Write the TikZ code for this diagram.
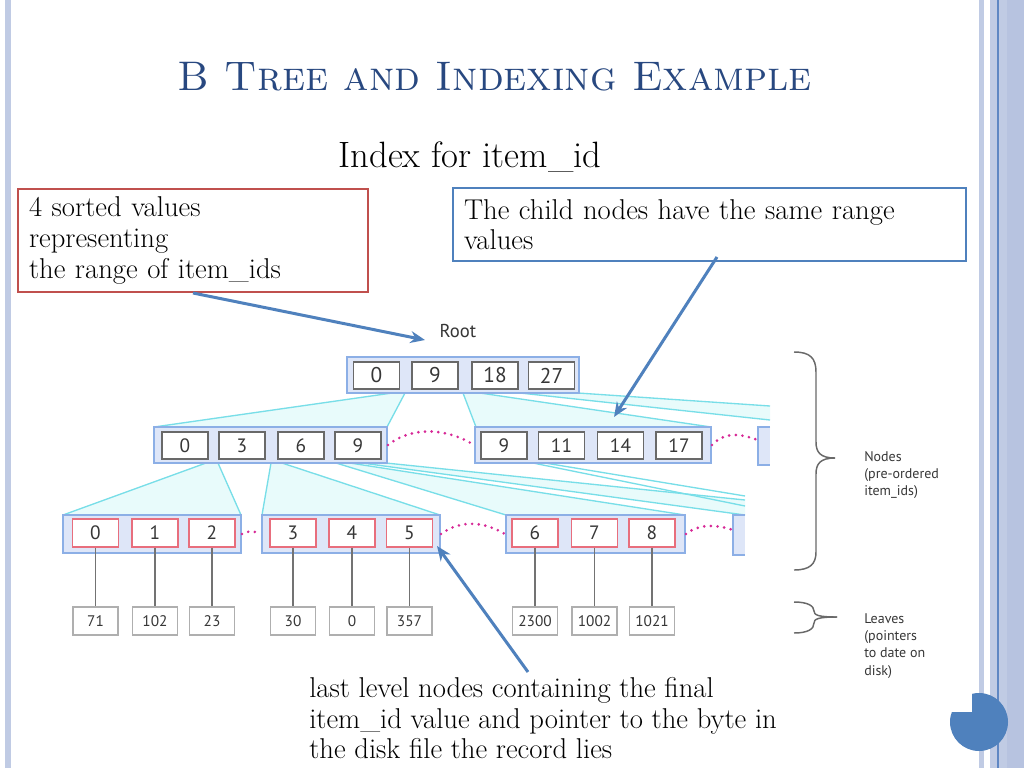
\documentclass[tikz,border=0pt]{standalone}
\usepackage{fontspec}
\newfontfamily\treefont{PT Sans}
\usetikzlibrary{arrows.meta}
\definecolor{titleblue}{RGB}{40,72,128}
\definecolor{boxred}{RGB}{192,80,77}
\definecolor{boxblue}{RGB}{79,129,189}
\definecolor{stripe}{RGB}{192,203,228}
\definecolor{stripetwo}{RGB}{183,195,224}
\definecolor{stripeline}{RGB}{95,135,195}
\definecolor{outerfill}{RGB}{222,230,248}
\definecolor{outerdraw}{RGB}{140,175,230}
\definecolor{cellgray}{RGB}{105,105,105}
\definecolor{cellred}{RGB}{232,110,125}
\definecolor{fanline}{RGB}{120,222,232}
\definecolor{fanfill}{RGB}{232,251,251}
\definecolor{dotpink}{RGB}{215,40,150}
\definecolor{leafgray}{RGB}{175,175,175}
\definecolor{treetext}{RGB}{55,55,55}
\definecolor{connline}{RGB}{115,115,115}
\definecolor{bracegray}{RGB}{105,105,105}
\tikzset{
  outerbox/.style={draw=outerdraw, fill=outerfill, line width=1.5pt, inner sep=0pt, minimum height=27pt},
  graycell/.style={draw=cellgray, fill=white, line width=1.3pt, inner sep=0pt, minimum width=34.5pt, minimum height=20.25pt, text=treetext},
  redcell/.style={draw=cellred, fill=white, line width=1.3pt, inner sep=0pt, minimum width=34.5pt, minimum height=21pt, text=treetext, font=\treefont\fontsize{14.5}{14.5}\selectfont},
  rootfont/.style={font=\treefont\fontsize{16}{16}\selectfont},
  midfont/.style={font=\treefont\fontsize{14.5}{14.5}\selectfont},
  leafbox/.style={draw=leafgray, fill=white, line width=0.8pt, inner sep=0pt, minimum width=33.75pt, minimum height=21pt, text=treetext, font=\treefont\fontsize{11.5}{11.5}\selectfont},
  fanarea/.style={fill=fanfill},
  fanedge/.style={draw=fanline, line width=1pt},
  pinkdots/.style={draw=dotpink, line width=2.2pt, dash pattern=on 0pt off 5pt, line cap=round},
  arr/.style={draw=boxblue, line width=2.25pt, -{Stealth[length=11pt,width=9pt]}},
  conn/.style={draw=connline, line width=1.3pt},
  bracepath/.style={draw=bracegray, line width=1.1pt},
  sidelbl/.style={anchor=north west, align=left, inner sep=0pt, text=treetext, font=\treefont\fontsize{10.5}{13}\selectfont},
  bodytext/.style={font=\fontsize{21.5}{23}\selectfont}
}
\begin{document}
\begin{tikzpicture}[x=0.75pt,y=-0.75pt]
\useasboundingbox (0,0) rectangle (1024,768);
\fill[white] (0,0) rectangle (1024,768);
% border stripes
\fill[stripe] (5,0) rectangle (11,768);
\fill[stripe] (979,0) rectangle (984,768);
\fill[stripe] (990,0) rectangle (1024,768);
\fill[stripetwo] (1007,0) rectangle (1024,768);
\draw[stripeline, line width=0.9pt] (998,0) -- (998,768);
% corner circle
\begin{scope}
\clip (972,650) rectangle (1024,768) (930,712) rectangle (1024,768);
\fill[boxblue] (979,722) circle (29);
\end{scope}
% title and subtitle
\node[font=\fontsize{31}{31}\selectfont, text=titleblue] (title) at (494.5,77) {\textsc{B Tree and Indexing Example}};
\node[font=\fontsize{27.5}{30}\selectfont] (sub) at (470,157) {Index for item\_id};
% callout boxes
\node[draw=boxred, line width=1.5pt, anchor=north west, inner xsep=8.25pt, inner ysep=0pt, text width=246pt, minimum height=77.25pt, align=left, bodytext] (lbox) at (17,188) {4 sorted values\\representing\\the range of item\_ids};
\node[draw=boxblue, line width=1.5pt, anchor=north west, inner xsep=8.25pt, inner ysep=0pt, text width=368.25pt, minimum height=54.75pt, align=left, bodytext] (rbox) at (452,187) {The child nodes have the same range\\values};
\node[anchor=north west, inner sep=0pt, align=left, bodytext] (btext) at (309,677) {last level nodes containing the final\\item\_id value and pointer to the byte in\\the disk file the record lies};
% fans root -> level 2
\fill[fanarea] (392,393) -- (405,393) -- (387,427) -- (154,427) -- cycle;
\draw[fanedge] (392,393) -- (154,427) (405,393) -- (387,427);
\fill[fanarea] (463,393) -- (480,393) -- (711,427) -- (476,427) -- cycle;
\draw[fanedge] (463,393) -- (476,427) (480,393) -- (711,427);
\fill[fanarea] (520,393) -- (578,393) -- (770,406) -- (770,420) -- cycle;
\draw[fanedge] (520,393) -- (770,420) (578,393) -- (770,406);
% fans level 2 -> level 3
\fill[fanarea] (206,463) -- (218,463) -- (241,515) -- (63,515) -- cycle;
\draw[fanedge] (206,463) -- (63,515) (218,463) -- (241,515);
\fill[fanarea] (271,463) -- (282,463) -- (440,515) -- (262,515) -- cycle;
\draw[fanedge] (271,463) -- (262,515) (282,463) -- (440,515);
\fill[fanarea] (336,463) -- (350,463) -- (685,515) -- (506,515) -- cycle;
\draw[fanedge] (336,463) -- (506,515) (350,463) -- (685,515);
\fill[fanarea] (362,463) -- (386,463) -- (745,500) -- (745,515) -- cycle;
\draw[fanedge] (362,463) -- (745,515) (386,463) -- (745,500);
\draw[fanedge] (533,463) -- (745,506) (545,463) -- (745,496);
% root
\node[font=\treefont\fontsize{14}{14}\selectfont, text=treetext] (rootlbl) at (458,331) {Root};
\node[outerbox, minimum width=174pt] (root) at (463,375) {};
\node[graycell, rootfont] (r0) at (376.5,375.5) {0};
\node[graycell, rootfont] (r1) at (435,375.5) {9};
\node[graycell, rootfont] (r2) at (495,375.5) {18};
\node[graycell, rootfont] (r3) at (551.5,375.5) {27};
% level 2
\node[outerbox, minimum width=174.75pt] (na) at (270.5,445) {};
\node[graycell, midfont] (a0) at (185,445.5) {0};
\node[graycell, midfont] (a1) at (242,445.5) {3};
\node[graycell, midfont] (a2) at (301,445.5) {6};
\node[graycell, midfont] (a3) at (358,445.5) {9};
\node[outerbox, minimum width=177pt] (nb) at (593,445) {};
\node[graycell, midfont] (b0) at (504,445.5) {9};
\node[graycell, midfont] (b1) at (561.5,445.5) {11};
\node[graycell, midfont] (b2) at (620.5,445.5) {14};
\node[graycell, midfont] (b3) at (679,445.5) {17};
\draw[draw=outerdraw, fill=outerfill, line width=1.5pt] (770,427) -- (758,427) -- (758,465) -- (770,465);
% level 3
\node[outerbox, minimum width=133.5pt, minimum height=28.5pt] (nA) at (152,534) {};
\node[outerbox, minimum width=133.5pt, minimum height=28.5pt] (nB) at (351,534) {};
\node[outerbox, minimum width=134.25pt, minimum height=28.5pt] (nC) at (595.5,534) {};
\draw[draw=outerdraw, fill=outerfill, line width=1.5pt] (745,515) -- (733,515) -- (733,555) -- (745,555);
\foreach \n/\x in {0/95.5,1/155,2/212,3/293,4/352,5/409.5,6/535,7/594.5,8/652} {
  \node[redcell] (c\n) at (\x,533) {\n};
}
\foreach \n/\x/\v in {0/95.5/71,1/155/102,2/212/23,3/293/30,4/352/0,5/409.5/357,6/535/2300,7/594.5/1002,8/652/1021} {
  \node[leafbox] (f\n) at (\x,621) {\v};
  \draw[conn] (c\n.south) -- (f\n.north);
}
% dotted sibling links
\draw[pinkdots] (na.east) .. controls +(25,-20) and +(-25,-16) .. (nb.west);
\coordinate (nbnext) at (758,440);
\draw[pinkdots] (nb.east) .. controls +(15,-16) and +(-12,-4) .. (nbnext);
\draw[pinkdots] (nA.east) .. controls +(7,-4) and +(-7,-3) .. (nB.west);
\draw[pinkdots] (nB.east) .. controls +(20,-15) and +(-20,-12) .. (nC.west);
\coordinate (ncnext) at (733,530);
\draw[pinkdots] (nC.east) .. controls +(15,-12) and +(-12,-4) .. (ncnext);
% braces and labels
\draw[bracepath] (794,352) .. controls (810,352) and (816,358) .. (816,372) -- (816,442) .. controls (816,452) and (820,458) .. (835,458);
\draw[bracepath] (835,458) .. controls (820,458) and (816,464) .. (816,474) -- (816,552) .. controls (816,564) and (810,570) .. (794,570);
\draw[bracepath] (794,602) .. controls (808,602) and (814,606) .. (814,611) .. controls (814,615) and (818,617) .. (837,617);
\draw[bracepath] (837,617) .. controls (818,617) and (814,619) .. (814,623) .. controls (814,629) and (808,633) .. (794,633);
\node[sidelbl] (nodeslbl) at (864,451) {Nodes\\(pre-ordered\\item\_ids)};
\node[sidelbl] (leaveslbl) at (864,613) {Leaves\\(pointers\\to date on\\disk)};
% arrows
\coordinate (a1end) at (425,340);
\draw[arr] (lbox.south) -- (a1end);
\coordinate (a2start) at (717,257);
\coordinate (a2end) at (614,417);
\draw[arr] (a2start) -- (a2end);
\coordinate (a3start) at (528,672);
\coordinate (a3end) at (437,546);
\draw[arr] (a3start) -- (a3end);
\end{tikzpicture}
\end{document}
